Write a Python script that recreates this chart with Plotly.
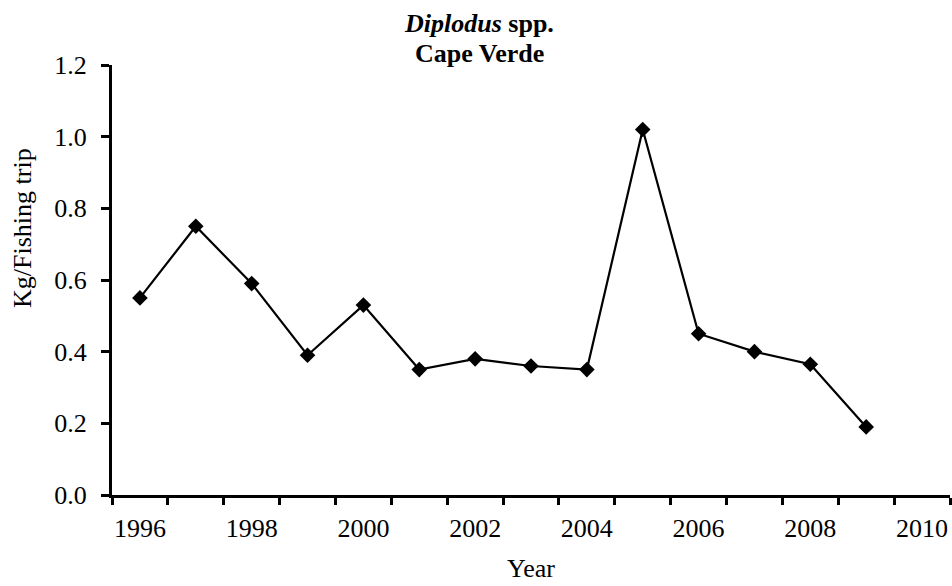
import plotly.graph_objects as go

# Catch per unit effort of Diplodus spp. in Cape Verde
years = [1996, 1997, 1998, 1999, 2000, 2001, 2002, 2003, 2004, 2005, 2006, 2007, 2008, 2009]
cpue = [0.55, 0.75, 0.59, 0.39, 0.53, 0.35, 0.38, 0.36, 0.35, 1.02, 0.45, 0.40, 0.365, 0.19]

x_labels = [1996, 1998, 2000, 2002, 2004, 2006, 2008, 2010]
y_ticks = [0.0, 0.2, 0.4, 0.6, 0.8, 1.0, 1.2]

FONT = "Liberation Serif, Times New Roman, serif"
FS = 26

# plot area in pixels
W, H = 952, 586
L, R, T, B = 112, 2, 65, 91
PW, PH = W - L - R, H - T - B


def px(xp):
    return (xp - L) / PW


def py(yp):
    return (H - B - yp) / PH


fig = go.Figure()
fig.add_trace(go.Scatter(
    x=years, y=cpue, mode="lines+markers",
    line=dict(color="black", width=2.2),
    marker=dict(symbol="diamond", size=12, color="black"),
    showlegend=False, cliponaxis=False,
))

annotations = [
    dict(text="<b><i>Diplodus</i> spp.</b>", x=px(479), y=py(23.5)),
    dict(text="<b>Cape Verde</b>", x=px(479), y=py(53.5)),
    dict(text="Year", x=px(531), y=py(568)),
    dict(text="Kg/Fishing trip", x=px(22), y=py(228), textangle=-90),
]
for a in annotations:
    a.update(xref="paper", yref="paper", xanchor="center", yanchor="middle",
             showarrow=False, font=dict(family=FONT, size=FS, color="black"))

fig.update_layout(
    width=W, height=H,
    paper_bgcolor="white", plot_bgcolor="white",
    margin=dict(l=L, r=R, t=T, b=B),
    font=dict(family=FONT, color="black", size=FS),
    annotations=annotations,
    xaxis=dict(
        range=[1995.5, 2010.5],
        tickmode="array", tickvals=x_labels, ticktext=[str(v) for v in x_labels],
        ticks="", showgrid=False, zeroline=False,
        showline=True, linecolor="black", linewidth=3,
        tickfont=dict(family=FONT, size=FS),
        ticklabelstandoff=8,
        minor=dict(tick0=1995.5, dtick=1, ticks="outside", ticklen=7,
                   tickwidth=3, tickcolor="black", showgrid=False),
    ),
    yaxis=dict(
        range=[0, 1.2],
        tickmode="array", tickvals=y_ticks, tickformat=".1f",
        ticks="outside", ticklen=8, tickwidth=3, tickcolor="black",
        showgrid=False, zeroline=False,
        showline=True, linecolor="black", linewidth=3,
        tickfont=dict(family=FONT, size=FS),
        ticklabelstandoff=9,
    ),
)

fig.write_html("out.html")
